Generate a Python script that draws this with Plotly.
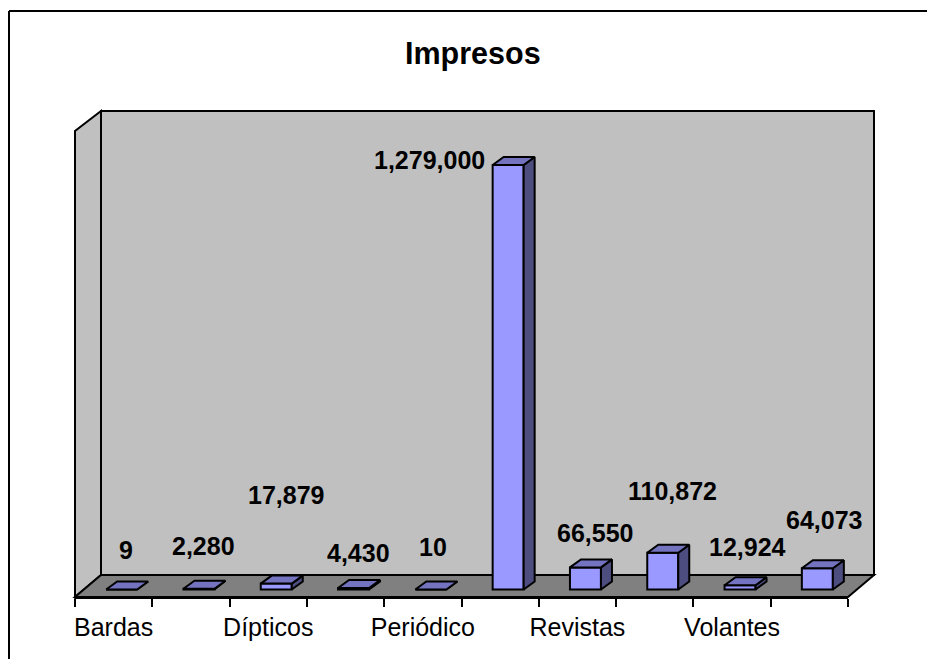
import plotly.graph_objects as go

title = "Impresos"
values = [9, 2280, 17879, 4430, 10, 1279000, 66550, 110872, 12924, 64073]
value_labels = ["9", "2,280", "17,879", "4,430", "10", "1,279,000", "66,550", "110,872", "12,924", "64,073"]
tick_positions = [0.5, 2.5, 4.5, 6.5, 8.5]
tick_labels = ["Bardas", "Dípticos", "Periódico", "Revistas", "Volantes"]
boundaries = list(range(11))

# layout constants (pixels)
W, H = 927, 659
L, R, B = 75, 848, 597
ZERO_PX = 589.5
TOP_PX = 165
DEPTH_X, DEPTH_Y = 26, 22
BAR_DX, BAR_DY = 11, 8
BAR_W_PX = 31
BAR_SHIFT_PX = 8
LABEL_X = [126, 203, 286, 358, 433, 429, 595, 672, 747, 824]
LABEL_Y = [550, 546, 495, 553, 547, 160, 533, 491, 547, 520]

cat_px = (R - L) / 10
val_per_px = values[5] / (ZERO_PX - TOP_PX)

def px(x):
    return (x - L) / (R - L)
def py(y):
    return (B - y) / B

def poly(points):
    return "M " + " L ".join(f"{px(a):.5f},{py(b):.5f}" for a, b in points) + " Z"

fig = go.Figure()

# Side and top faces come from the values through the data axes
dx = BAR_DX / cat_px
dy = BAR_DY * val_per_px
half = BAR_W_PX / 2 / cat_px
shift = BAR_SHIFT_PX / cat_px
for i, v in enumerate(values):
    c = i + 0.5 + shift
    x0, x1 = c - half, c + half
    fig.add_trace(go.Scatter(
        x=[x1, x1 + dx, x1 + dx, x1, x1], y=[0, dy, v + dy, v, 0],
        mode="lines", fill="toself", fillcolor="#4D4D80",
        line=dict(color="black", width=2), hoverinfo="skip", showlegend=False))
    fig.add_trace(go.Scatter(
        x=[x0, x0 + dx, x1 + dx, x1, x0], y=[v, v + dy, v + dy, v, v],
        mode="lines", fill="toself", fillcolor="#7373BF",
        line=dict(color="black", width=2), hoverinfo="skip", showlegend=False))

fig.add_trace(go.Bar(
    x=[i + 0.5 + shift for i in range(len(values))], y=values,
    width=BAR_W_PX / cat_px,
    marker=dict(color="#9999FF", line=dict(color="black", width=2)),
    showlegend=False))

line = dict(color="black", width=2)
shapes = [
    dict(type="path", xref="paper", yref="paper", layer="below", line=line, fillcolor="#C0C0C0",
         path=poly([(L + DEPTH_X, B - DEPTH_Y), (R + DEPTH_X, B - DEPTH_Y), (R + DEPTH_X, 111), (L + DEPTH_X, 111)])),
    dict(type="path", xref="paper", yref="paper", layer="below", line=line, fillcolor="#C0C0C0",
         path=poly([(L, B), (L + DEPTH_X, B - DEPTH_Y), (L + DEPTH_X, 111), (L, 131)])),
    dict(type="path", xref="paper", yref="paper", layer="below", line=line, fillcolor="#808080",
         path=poly([(L, B), (R, B), (R + DEPTH_X, B - DEPTH_Y), (L + DEPTH_X, B - DEPTH_Y)])),
    dict(type="line", xref="paper", yref="paper", line=dict(color="black", width=2),
         x0=px(9), x1=px(W), y0=py(11), y1=py(11)),
    dict(type="line", xref="paper", yref="paper", line=dict(color="black", width=2),
         x0=px(9), x1=px(9), y0=py(11), y1=py(H)),
]

annotations = [dict(x=px(473), y=py(54), xref="paper", yref="paper", text=f"<b>{title}</b>",
                    showarrow=False, font=dict(size=30.5), xanchor="center", yanchor="middle")]
for lab, lx, ly in zip(value_labels, LABEL_X, LABEL_Y):
    annotations.append(dict(x=px(lx), y=py(ly), xref="paper", yref="paper", text=f"<b>{lab}</b>",
                            showarrow=False, font=dict(size=25), xanchor="center", yanchor="middle"))

fig.update_layout(
    width=W, height=H, autosize=False,
    margin=dict(l=L, r=W - R, t=0, b=H - B, pad=0),
    paper_bgcolor="white", plot_bgcolor="rgba(0,0,0,0)",
    font=dict(family="Liberation Sans, Arial, sans-serif", color="black"),
    shapes=shapes, annotations=annotations, showlegend=False, barmode="overlay",
    xaxis=dict(range=[0, 10], tickmode="array", tickvals=tick_positions, ticktext=tick_labels,
               ticks="outside", ticklen=7, tickcolor="rgba(0,0,0,0)", tickfont=dict(size=25),
               showgrid=False, zeroline=False, showline=True, linecolor="black", linewidth=2,
               minor=dict(tickmode="array", tickvals=boundaries, ticks="outside", ticklen=8,
                          tickcolor="black", tickwidth=2, showgrid=False)),
    yaxis=dict(range=[-(B - ZERO_PX) * val_per_px, ZERO_PX * val_per_px], visible=False, showgrid=False, zeroline=False),
)
fig.write_html("out.html", config=dict(displayModeBar=False),
               post_script="document.body.style.margin='0';document.documentElement.style.overflow='hidden';")
